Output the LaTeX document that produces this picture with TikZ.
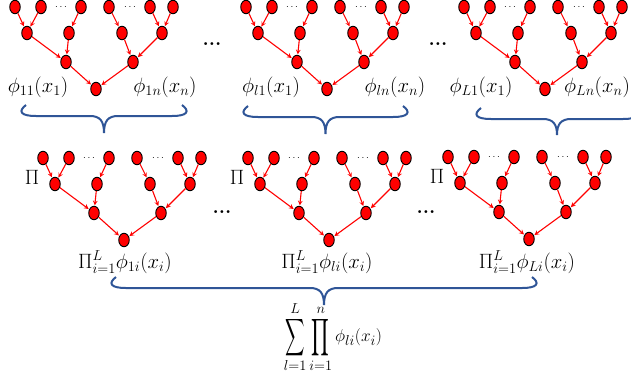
\documentclass[tikz,border=0pt]{standalone}
\usepackage{exscale}
\usepackage{tikz}
\usepackage{graphicx}
\usetikzlibrary{shapes.geometric}
\definecolor{bracecol}{RGB}{47,85,151}

% big operators shaped like the reference's
\newcommand{\bigsum}{\mathop{\vcenter{\hbox{\scalebox{0.78}[1.5]{$\displaystyle\sum$}}}}\limits}
\newcommand{\bigprod}{\mathop{\vcenter{\hbox{\scalebox{0.8}[1.5]{$\displaystyle\prod$}}}}\limits}

% one binary tree, #1 name prefix, root at (#2,#3)
\newcommand{\drawtree}[3]{%
  \begin{scope}[shift={(#2,#3)}]
    \node[nd] (#1r) at (0,0) {};
    \node[nd] (#1a) at (-30,-27) {};
    \node[nd] (#1b) at (37,-27) {};
    \node[nd] (#1aa) at (-69,-56) {};
    \node[nd] (#1ab) at (-27,-56) {};
    \node[nd] (#1ba) at (26,-56) {};
    \node[nd] (#1bb) at (66,-56) {};
    \node[nd] (#1l1) at (-81,-82) {};
    \node[nd] (#1l2) at (-55,-82) {};
    \node[nd] (#1l3) at (-15,-82) {};
    \node[nd] (#1l4) at (13,-82) {};
    \node[nd] (#1l5) at (54,-82) {};
    \node[nd] (#1l6) at (77,-82) {};
    \node[dts] (#1d1) at (-35,-80.3) {$\cdots$};
    \node[dts] (#1d2) at (34,-80.3) {$\cdots$};
    \foreach \ch/\pa in {l1/aa, l2/aa, l3/ab, l4/ba, l5/bb, l6/bb,
                         aa/a, ab/a, ba/b, bb/b, a/r, b/r}
      \draw[arr] (#1\ch) -- (#1\pa);
  \end{scope}}

% curly brace, left end x, right end x, top y, tip y
\newcommand{\curlybrace}[4]{%
  \pgfmathsetmacro{\bmid}{(#1+#2)/2}
  \pgfmathsetmacro{\bline}{#3+11}
  \draw[brc] (#1,#3) .. controls (#1-8,#3+6) and (#1-6,\bline) .. (#1+10,\bline)
    -- (\bmid-14,\bline) .. controls (\bmid-4,\bline) and (\bmid,\bline+5) .. (\bmid,#4)
    .. controls (\bmid,\bline+5) and (\bmid+4,\bline) .. (\bmid+14,\bline)
    -- (#2-10,\bline) .. controls (#2+6,\bline) and (#2+8,#3+6) .. (#2,#3);}

\begin{document}
\begin{tikzpicture}[
    x=1pt, y=-1pt,
    nd/.style={ellipse, draw=black, fill=red, line width=0.9pt, minimum width=10.5pt, minimum height=13.5pt, inner sep=0pt},
    arr/.style={->, red, line width=1.1pt, >=stealth, shorten >=0.5pt},
    dts/.style={font=\normalsize, inner sep=0pt, text height=1.5pt, text depth=0pt},
    bigdots/.style={font=\fontsize{20}{20}\selectfont\bfseries, inner sep=0pt},
    lbl/.style={font=\fontsize{20}{22}\selectfont, inner sep=0pt},
    brc/.style={draw=bracecol, line width=2pt}
]
\useasboundingbox (0,0) rectangle (631,378);

% Top row: one tree per l
\drawtree{T1}{96}{89}
\drawtree{T2}{327}{89}
\drawtree{T3}{545}{89}

\node[bigdots] (tdots1) at (212,44) {...};
\node[bigdots] (tdots2) at (438,44) {...};

% leaf function labels
\node[lbl] (f11) at (38,87) {$\phi_{11}(x_1)$};
\node[lbl] (f1n) at (165,87) {$\phi_{1n}(x_n)$};
\node[lbl] (fl1) at (271,87) {$\phi_{l1}(x_1)$};
\node[lbl] (fln) at (395,87) {$\phi_{ln}(x_n)$};
\node[lbl] (fL1) at (481,87) {$\phi_{L1}(x_1)$};
\node[lbl] (fLn) at (597,87) {$\phi_{Ln}(x_n)$};

% braces under the top trees
\curlybrace{26}{182}{105}{133}
\curlybrace{248}{403}{106}{134}
\curlybrace{481}{633}{108}{135}

% Bottom row: product trees
\drawtree{B1}{124}{240}
\drawtree{B2}{329}{240}
\drawtree{B3}{529}{239}

\node[lbl] (pi1) at ([shift={(-92,-63)}]B1r) {$\Pi$};
\node[lbl] (pi2) at ([shift={(-92,-63)}]B2r) {$\Pi$};
\node[lbl] (pi3) at ([shift={(-92,-63)}]B3r) {$\Pi$};

\node[bigdots] (bdots1) at (222,212) {...};
\node[bigdots] (bdots2) at (426,212) {...};

\node[lbl] (p1) at (125,262) {$\Pi_{i=1}^{L}\phi_{1i}(x_i)$};
\node[lbl] (pl) at (327,262) {$\Pi_{i=1}^{L}\phi_{li}(x_i)$};
\node[lbl] (pL) at (527,262) {$\Pi_{i=1}^{L}\phi_{Li}(x_i)$};

% final brace and sum
\curlybrace{116}{532}{277}{305}
\node[lbl, font=\fontsize{19}{22}\selectfont] (sum) at (333,337) {$\bigsum_{l=1}^{L}\bigprod_{i=1}^{n}\phi_{li}(x_i)$};
\end{tikzpicture}
\end{document}
